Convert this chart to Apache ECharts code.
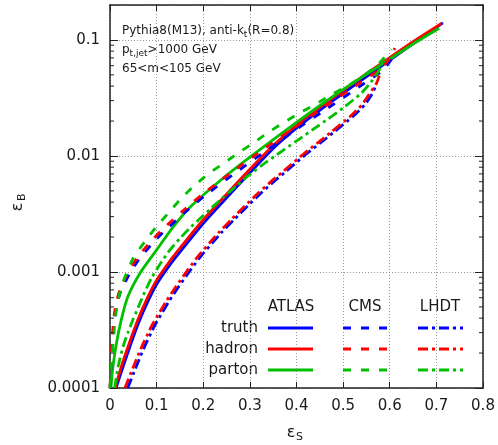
<!DOCTYPE html>
<html><head><meta charset="utf-8">
<script src="https://cdn.jsdelivr.net/npm/echarts/dist/echarts.min.js"></script>
<style>html,body{margin:0;padding:0;background:#fff}#c{width:498px;height:445px}</style>
</head><body><div id="c"></div>
<script>
// ---- data (x = eps_S, y = eps_B) ----
const xTickLabels = ['0','0.1','0.2','0.3','0.4','0.5','0.6','0.7','0.8'];
const yTickLabels = ['0.0001','0.001','0.01','0.1'];
const yMinorTicks = [0.0002,0.0003,0.0004,0.0005,0.0006,0.0007,0.0008,0.0009,
  0.002,0.003,0.004,0.005,0.006,0.007,0.008,0.009,
  0.02,0.03,0.04,0.05,0.06,0.07,0.08,0.09];

const atlasTruth = [[0.013,1.0e-4],[0.026,1.44e-4],[0.042,2.23e-4],[0.062,3.7e-4],[0.082,5.66e-4],[0.102,8.08e-4],[0.127,1.13e-3],[0.152,1.52e-3],[0.202,2.68e-3],[0.252,4.44e-3],[0.302,7.29e-3],[0.351,0.0117],[0.401,0.0175],[0.451,0.025],[0.501,0.0349],[0.551,0.0486],[0.601,0.0675],[0.651,0.0935],[0.714,0.140]];
const atlasHadron = [[0.011,1.0e-4],[0.024,1.514e-4],[0.04,2.344e-4],[0.06,3.89e-4],[0.08,5.96e-4],[0.1,8.51e-4],[0.125,1.189e-3],[0.15,1.603e-3],[0.2,2.818e-3],[0.25,4.677e-3],[0.3,7.674e-3],[0.35,0.0123],[0.4,0.0184],[0.45,0.0263],[0.5,0.0367],[0.55,0.0511],[0.6,0.0705],[0.65,0.0966],[0.711,0.139]];
const atlasParton = [[0.002,1.0e-4],[0.005,1.38e-4],[0.0136,2.40e-4],[0.0243,3.89e-4],[0.0386,6.17e-4],[0.0643,9.77e-4],[0.1,1.549e-3],[0.136,2.455e-3],[0.172,3.63e-3],[0.243,6.46e-3],[0.315,0.01084],[0.4,0.0195],[0.486,0.0343],[0.558,0.0531],[0.6,0.0684],[0.65,0.0923],[0.706,0.126]];

const cmsTruth = [[0.0,1.0e-4],[0.003,1.5e-4],[0.006,2.68e-4],[0.01,4.05e-4],[0.016,5.47e-4],[0.0225,6.73e-4],[0.041,9.5e-4],[0.062,1.282e-3],[0.088,1.709e-3],[0.113,2.176e-3],[0.159,3.219e-3],[0.202,4.495e-3],[0.2665,7.04e-3],[0.327,0.01054],[0.392,0.01613],[0.46,0.0247],[0.535,0.0396],[0.582,0.0534],[0.602,0.0664],[0.612,0.0825]];
const cmsHadron = [[0.0,1.0e-4],[0.002,1.585e-4],[0.005,2.818e-4],[0.009,4.266e-4],[0.015,5.754e-4],[0.0215,7.079e-4],[0.039,1.0e-3],[0.06,1.349e-3],[0.0858,1.799e-3],[0.111,2.291e-3],[0.157,3.388e-3],[0.2,4.732e-3],[0.2645,7.413e-3],[0.325,0.01109],[0.39,0.01698],[0.4575,0.026],[0.5326,0.0417],[0.58,0.0562],[0.6,0.0692],[0.611,0.0851]];
const cmsParton = [[0.0,1.0e-4],[0.004,1.78e-4],[0.008,2.82e-4],[0.0136,4.68e-4],[0.025,7.59e-4],[0.05,1.32e-3],[0.075,1.83e-3],[0.1,2.47e-3],[0.125,3.21e-3],[0.15,4.19e-3],[0.179,5.46e-3],[0.211,7.0e-3],[0.243,8.6e-3],[0.275,0.0106],[0.307,0.0129],[0.343,0.0163],[0.372,0.0193],[0.4075,0.0236],[0.44,0.0277],[0.4755,0.0339],[0.515,0.0413],[0.55,0.0513],[0.58,0.0646],[0.604,0.083]];

const lhdtTruth = [[0.038,1.0e-4],[0.0517,1.374e-4],[0.066,1.905e-4],[0.0768,2.399e-4],[0.0875,2.951e-4],[0.0947,3.388e-4],[0.109,4.266e-4],[0.127,5.623e-4],[0.145,7.244e-4],[0.174,1.059e-3],[0.199,1.429e-3],[0.2205,1.799e-3],[0.238,2.163e-3],[0.267,2.851e-3],[0.2955,3.715e-3],[0.324,4.786e-3],[0.353,6.095e-3],[0.374,7.161e-3],[0.3884,8.035e-3],[0.4206,0.01035],[0.46,0.0138],[0.4815,0.01622],[0.521,0.02188],[0.546,0.0275],[0.56,0.0331],[0.57,0.040]];
const lhdtHadron = [[0.032,1.0e-4],[0.0457,1.374e-4],[0.06,1.905e-4],[0.0708,2.399e-4],[0.0815,2.951e-4],[0.0887,3.388e-4],[0.103,4.266e-4],[0.121,5.623e-4],[0.139,7.244e-4],[0.168,1.059e-3],[0.193,1.429e-3],[0.2145,1.799e-3],[0.232,2.163e-3],[0.261,2.851e-3],[0.2895,3.715e-3],[0.318,4.786e-3],[0.347,6.095e-3],[0.368,7.161e-3],[0.3824,8.035e-3],[0.4146,0.01035],[0.454,0.0138],[0.4755,0.01622],[0.515,0.02188],[0.54,0.02754],[0.554,0.0331],[0.572,0.04266],[0.579,0.05129]];
const lhdtParton = [[0.01,1.0e-4],[0.0172,1.517e-4],[0.0279,2.259e-4],[0.0386,3.02e-4],[0.0493,3.89e-4],[0.06,4.898e-4],[0.0715,6.31e-4],[0.0894,8.913e-4],[0.111,1.23e-3],[0.1287,1.549e-3],[0.15,1.95e-3],[0.1716,2.399e-3],[0.189,2.786e-3],[0.2145,3.467e-3],[0.243,4.416e-3],[0.272,5.559e-3],[0.2966,6.761e-3],[0.336,8.913e-3],[0.3575,0.01023],[0.372,0.01122],[0.4075,0.01413],[0.436,0.01698],[0.468,0.02089],[0.5004,0.026],[0.536,0.0339],[0.5576,0.04217],[0.5755,0.05309],[0.583,0.0631]];

const seriesNames = ['ATLAS truth','ATLAS hadron','ATLAS parton','CMS truth','CMS hadron','CMS parton','LHDT truth','LHDT hadron','LHDT parton'];
const seriesData = [atlasTruth, atlasHadron, atlasParton, cmsTruth, cmsHadron, cmsParton, lhdtTruth, lhdtHadron, lhdtParton];
const rowLabels = ['truth','hadron','parton'];
const colLabels = ['ATLAS','CMS','LHDT'];

// ---- styles ----
const FONT = '"DejaVu Sans", sans-serif';
const TXT = '#1a1a1a';
const colors = ['#0000ff', '#ff0000', '#00c000'];
const dashes = ['solid', [8, 10], [10, 4, 3, 4]];
const LW = 2.8;

const ctx = document.createElement('canvas').getContext('2d');
function tw(t, font) { ctx.font = font; return ctx.measureText(t).width; }

function richLine(x, y, parts, size, subSize) {
  const els = [];
  let cx = x;
  parts.forEach(([t, sub]) => {
    const fs = sub ? subSize : size;
    const f = fs + 'px ' + FONT;
    els.push({ type: 'text', x: cx, y: sub ? y + 3.5 : y, silent: true,
      style: { text: t, font: f, fill: TXT, align: 'left', verticalAlign: 'middle' } });
    cx += tw(t, f);
  });
  return els;
}

const series = seriesData.map((d, i) => ({
  name: seriesNames[i], type: 'line', data: d, showSymbol: false, symbol: 'none',
  smooth: 0.2, animation: false, clip: true,
  lineStyle: { color: colors[i % 3], width: LW, type: dashes[Math.floor(i / 3)], cap: 'butt' },
  itemStyle: { color: colors[i % 3] }, z: 3 + i * 0.01
}));

series.push({
  type: 'custom', silent: true, animation: false, clip: false, z: 5,
  xAxisIndex: 0, yAxisIndex: 0,
  data: yMinorTicks.map(v => [0, v]), encode: { x: 0, y: 1 },
  renderItem(params, api) {
    const v = api.value(1);
    const p = api.coord([0, v]);
    const q = api.coord([0.8, v]);
    const st = { stroke: '#222', lineWidth: 1 };
    return { type: 'group', children: [
      { type: 'line', shape: { x1: p[0], y1: p[1], x2: p[0] + 4, y2: p[1] }, style: st },
      { type: 'line', shape: { x1: q[0] - 4, y1: q[1], x2: q[0], y2: q[1] }, style: st }
    ] };
  }
});

// ---- annotation + legend graphics ----
const graphics = [];
graphics.push(...richLine(122, 31, [['Pythia8(M13), anti-k', false], ['t', true], ['(R=0.8)', false]], 12, 9));
graphics.push(...richLine(122, 50, [['p', false], ['t,jet', true], ['>1000 GeV', false]], 12, 9));
graphics.push(...richLine(122, 69, [['65<m<105 GeV', false]], 12, 9));

const colCenters = [291, 365, 440];
const colLine = [[268, 313], [343, 387], [418, 463]];
const rowY = [328, 349, 370];
colLabels.forEach((c, j) => graphics.push({ type: 'text', x: colCenters[j], y: 307, silent: true,
  style: { text: c, font: '15px ' + FONT, fill: TXT, align: 'center', verticalAlign: 'middle' } }));
rowLabels.forEach((r, k) => {
  graphics.push({ type: 'text', x: 258, y: rowY[k], silent: true,
    style: { text: r, font: '15px ' + FONT, fill: TXT, align: 'right', verticalAlign: 'middle' } });
  colLabels.forEach((c, j) => {
    const d = dashes[j];
    graphics.push({ type: 'line', silent: true,
      shape: { x1: colLine[j][0], y1: rowY[k], x2: colLine[j][1], y2: rowY[k] },
      style: { stroke: colors[k], lineWidth: LW, lineDash: d === 'solid' ? null : d, lineCap: 'butt' } });
  });
});
// axis titles
graphics.push({ type: 'group', x: 18, y: 207, rotation: Math.PI / 2, children: [
  { type: 'text', x: 0, y: 0, style: { text: 'ε', font: '16px ' + FONT, fill: TXT, align: 'center', verticalAlign: 'middle' } },
  { type: 'text', x: 6, y: 4, style: { text: 'B', font: '11px ' + FONT, fill: TXT, align: 'left', verticalAlign: 'middle' } }
] });
graphics.push({ type: 'text', x: 291, y: 433, silent: true, style: { text: 'ε', font: '16px ' + FONT, fill: TXT, align: 'center', verticalAlign: 'middle' } });
graphics.push({ type: 'text', x: 296, y: 437, silent: true, style: { text: 'S', font: '11px ' + FONT, fill: TXT, align: 'left', verticalAlign: 'middle' } });

const axisLine = { show: true, onZero: false, lineStyle: { color: '#222', width: 1.5 } };
const splitDot = { show: true, lineStyle: { color: '#9a9a9a', width: 1, type: [1, 2] } };
function yFmt(v) {
  const l = Math.log10(v);
  if (Math.abs(l - Math.round(l)) > 1e-6) return '';
  const idx = Math.round(l) + 4;
  return yTickLabels[idx] || '';
}

const option = {
  animation: false,
  backgroundColor: '#fff',
  grid: { left: 110, right: 15, top: 5, bottom: 57 },
  xAxis: [
    { type: 'value', min: 0, max: 0.8, interval: 0.1, position: 'bottom',
      axisLine, axisTick: { show: true, inside: true, length: 6, lineStyle: { color: '#222' } },
      axisLabel: { fontFamily: FONT, fontSize: 15, color: TXT, margin: 11,
        formatter: v => xTickLabels[Math.round(v * 10)] },
      splitLine: splitDot },
    { type: 'value', min: 0, max: 0.8, interval: 0.1, position: 'top',
      axisLine, axisTick: { show: true, inside: true, length: 6, lineStyle: { color: '#222' } },
      axisLabel: { show: false }, splitLine: { show: false } }
  ],
  yAxis: [
    { type: 'log', logBase: 10, min: 0.0001, max: 0.2, position: 'left',
      axisLine, axisTick: { show: true, inside: true, length: 8, lineStyle: { color: '#222' } },
      axisLabel: { fontFamily: FONT, fontSize: 15, color: TXT, margin: 10, formatter: yFmt, showMaxLabel: false },
      splitLine: splitDot },
    { type: 'log', logBase: 10, min: 0.0001, max: 0.2, position: 'right',
      axisLine, axisTick: { show: true, inside: true, length: 8, lineStyle: { color: '#222' } },
      axisLabel: { show: false }, splitLine: { show: false } }
  ],
  series,
  graphic: graphics
};

const chart = echarts.init(document.getElementById('c'), null, { renderer: 'canvas' });
chart.setOption(option);
</script></body></html>
